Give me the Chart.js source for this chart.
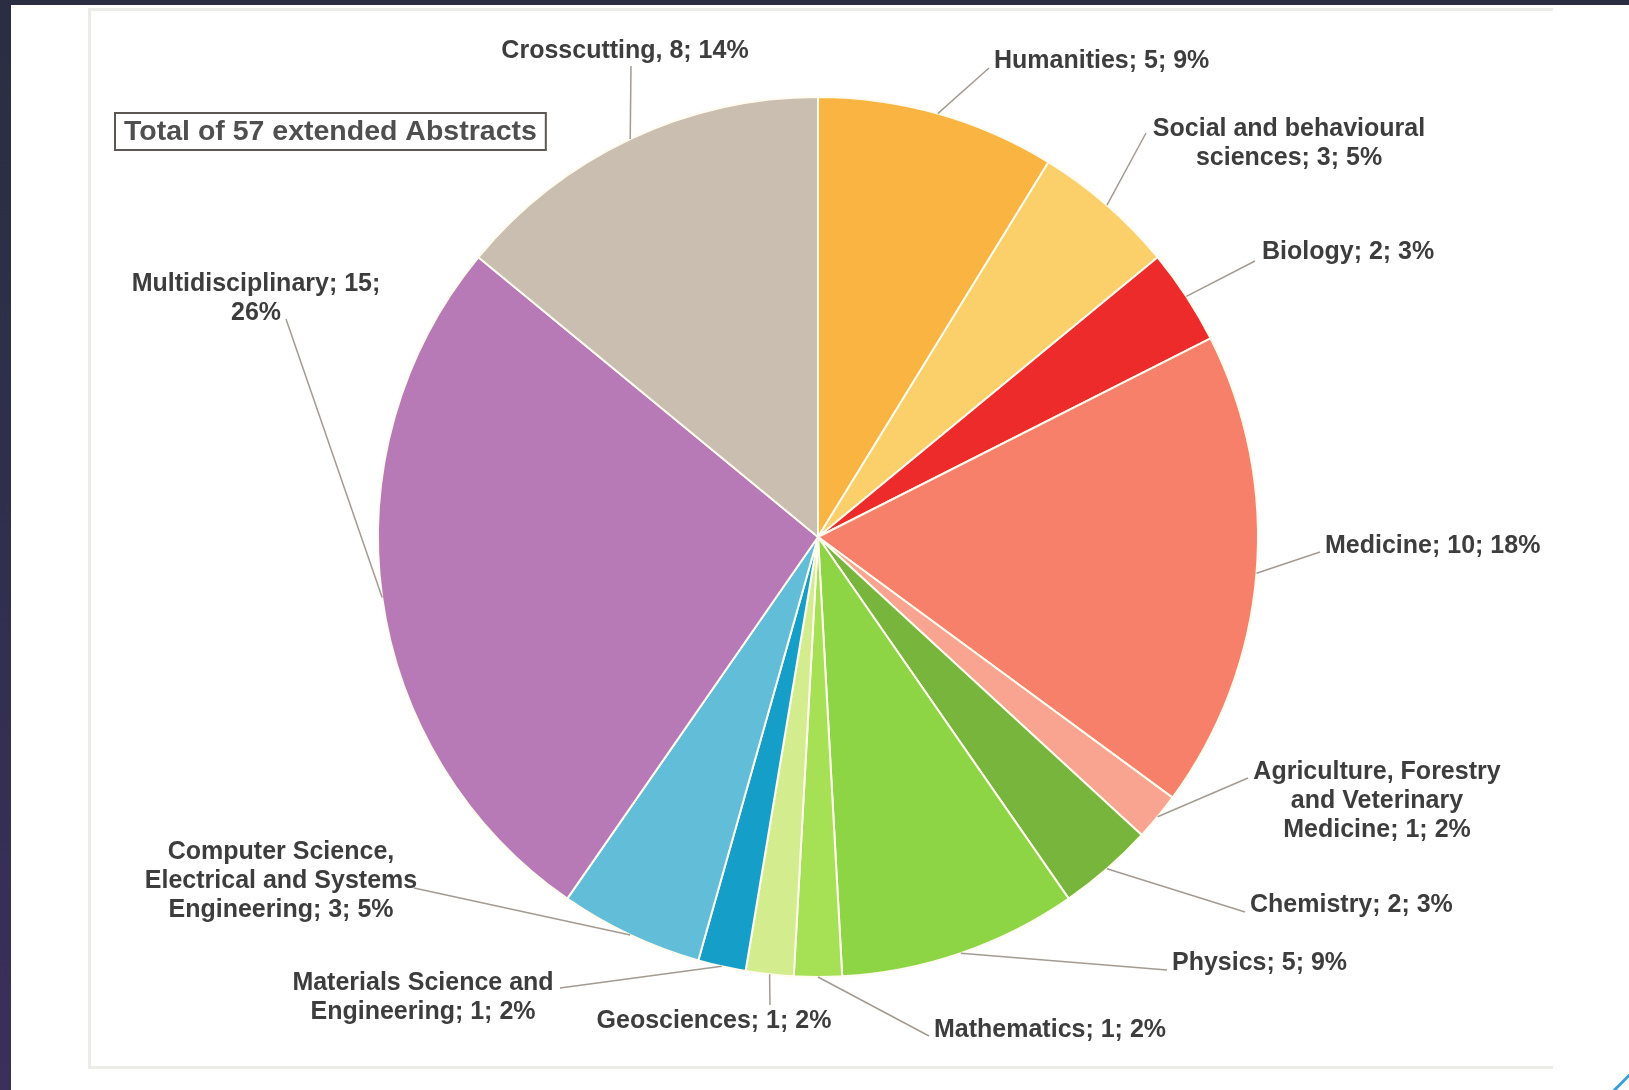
<!DOCTYPE html>
<html>
<head>
<meta charset="utf-8">
<title>Extended abstracts by field</title>
<script src="https://cdn.jsdelivr.net/npm/chart.js@4.4.1/dist/chart.umd.min.js"></script>
<style>
    html, body { margin: 0; padding: 0; background: #ffffff; }
    body { width: 1629px; height: 1090px; position: relative; overflow: hidden; }
    .band-top { position: absolute; left: 0; top: 0; width: 1629px; height: 5px; background: #2b2e42; }
    .band-left { position: absolute; left: 0; top: 0; width: 11px; height: 1090px;
        background: linear-gradient(#2b2e42 0%, #2f2f4c 45%, #3b2f5c 100%); }
    .panel { position: absolute; left: 88px; top: 8px; width: 1462px; height: 1055px;
        border-left: 3px solid #ececE8; border-top: 3px solid #ececE8; border-bottom: 3px solid #ececE8; }
    .accent { position: absolute; left: 1606px; top: 1080px; width: 34px; height: 3px;
        background: #3a9fd8; transform: rotate(-45deg); }
    #chart { position: absolute; left: 0; top: 0; }
</style>
</head>
<body>
<div class="band-top"></div>
<div class="band-left"></div>
<div class="panel"></div>
<div class="accent"></div>
<canvas id="chart" width="1629" height="1090"></canvas>
<script>
// Abstracts per field, clockwise from 12 o'clock
const categories = [
    'Humanities',
    'Social and behavioural\nsciences',
    'Biology',
    'Medicine',
    'Agriculture, Forestry\nand Veterinary\nMedicine',
    'Chemistry',
    'Physics',
    'Mathematics',
    'Geosciences',
    'Materials Science and\nEngineering',
    'Computer Science,\nElectrical and Systems\nEngineering',
    'Multidisciplinary',
    'Crosscutting'
];
const counts = [5, 3, 2, 10, 1, 2, 5, 1, 1, 1, 3, 15, 8];
const shares = ['9%', '5%', '3%', '18%', '2%', '3%', '9%', '2%', '2%', '2%', '5%', '26%', '14%'];

const colors = [
    '#fab441', '#fbcf6a', '#ed2b2a', '#f6806a', '#f8a491', '#78b53c', '#8dd544',
    '#a6e055', '#d2ec8e', '#149ec8', '#62bed8', '#b87ab7', '#c9beaf'
];

// where each data label sits: text anchor (first line), alignment, leader line end
const labelLayout = [
    { x: 994,  y: 61,   align: 'left',   ex: 989,  ey: 68 },
    { x: 1289, y: 129,  align: 'center', ex: 1146, ey: 133 },
    { x: 1262, y: 252,  align: 'left',   ex: 1255, ey: 261 },
    { x: 1325, y: 546,  align: 'left',   ex: 1320, ey: 552 },
    { x: 1377, y: 772,  align: 'center', ex: 1248, ey: 778 },
    { x: 1250, y: 905,  align: 'left',   ex: 1245, ey: 912 },
    { x: 1172, y: 963,  align: 'left',   ex: 1167, ey: 970 },
    { x: 934,  y: 1030, align: 'left',   ex: 929,  ey: 1036 },
    { x: 714,  y: 1021, align: 'center', ex: 770,  ey: 1005 },
    { x: 423,  y: 983,  align: 'center', ex: 560,  ey: 988 },
    { x: 281,  y: 852,  align: 'center', ex: 414,  ey: 888 },
    { x: 256,  y: 284,  align: 'center', ex: 286,  ey: 319, brk: '\n' },
    { x: 625,  y: 51,   align: 'center', ex: 631,  ey: 66, sep: ', ' }
];

const total = counts.reduce((a, b) => a + b, 0);
const LABEL_FONT = 'bold 25px "Liberation Sans", Arial, sans-serif';
const LINE_H = 29;

function labelText(i) {
    const l = labelLayout[i];
    const sep = l.sep || '; ';
    const brk = l.brk || ' ';
    return categories[i] + sep + counts[i] + ';' + brk + shares[i];
}

// leader lines and data labels next to each slice
const sliceLabels = {
    id: 'sliceLabels',
    afterDatasetsDraw(chart) {
        const ctx = chart.ctx;
        const meta = chart.getDatasetMeta(0);
        ctx.save();
        meta.data.forEach((arc, i) => {
            const p = arc.getProps(['x', 'y', 'startAngle', 'endAngle', 'outerRadius'], true);
            const mid = (p.startAngle + p.endAngle) / 2;
            const sx = p.x + Math.cos(mid) * p.outerRadius;
            const sy = p.y + Math.sin(mid) * p.outerRadius;
            const l = labelLayout[i];

            ctx.strokeStyle = '#a39b92';
            ctx.lineWidth = 1.5;
            ctx.beginPath();
            ctx.moveTo(sx, sy);
            ctx.lineTo(l.ex, l.ey);
            ctx.stroke();

            ctx.font = LABEL_FONT;
            ctx.fillStyle = '#3d3d3d';
            ctx.textAlign = l.align;
            ctx.textBaseline = 'middle';
            labelText(i).split('\n').forEach((line, k) => {
                ctx.fillText(line, l.x, l.y + k * LINE_H);
            });
        });

        // boxed total in the top left corner
        const boxText = 'Total of ' + total + ' extended Abstracts';
        ctx.font = 'bold 28.5px "Liberation Sans", Arial, sans-serif';
        ctx.textAlign = 'left';
        ctx.textBaseline = 'middle';
        ctx.fillStyle = '#4f4f4f';
        ctx.fillText(boxText, 124, 132);
        const w = ctx.measureText(boxText).width;
        ctx.strokeStyle = '#5c5752';
        ctx.lineWidth = 2;
        ctx.strokeRect(115, 113, w + 18, 37);
        ctx.restore();
    }
};

const chart = new Chart(document.getElementById('chart').getContext('2d'), {
    type: 'pie',
    data: {
        labels: categories,
        datasets: [{
            data: counts,
            backgroundColor: colors,
            borderColor: '#fffbee',
            borderWidth: 2
        }]
    },
    options: {
        responsive: false,
        animation: false,
        layout: {
            padding: { left: 377, right: 370, top: 96, bottom: 112 }
        },
        plugins: {
            legend: { display: false },
            tooltip: { enabled: false }
        }
    },
    plugins: [sliceLabels]
});
</script>
</body>
</html>
